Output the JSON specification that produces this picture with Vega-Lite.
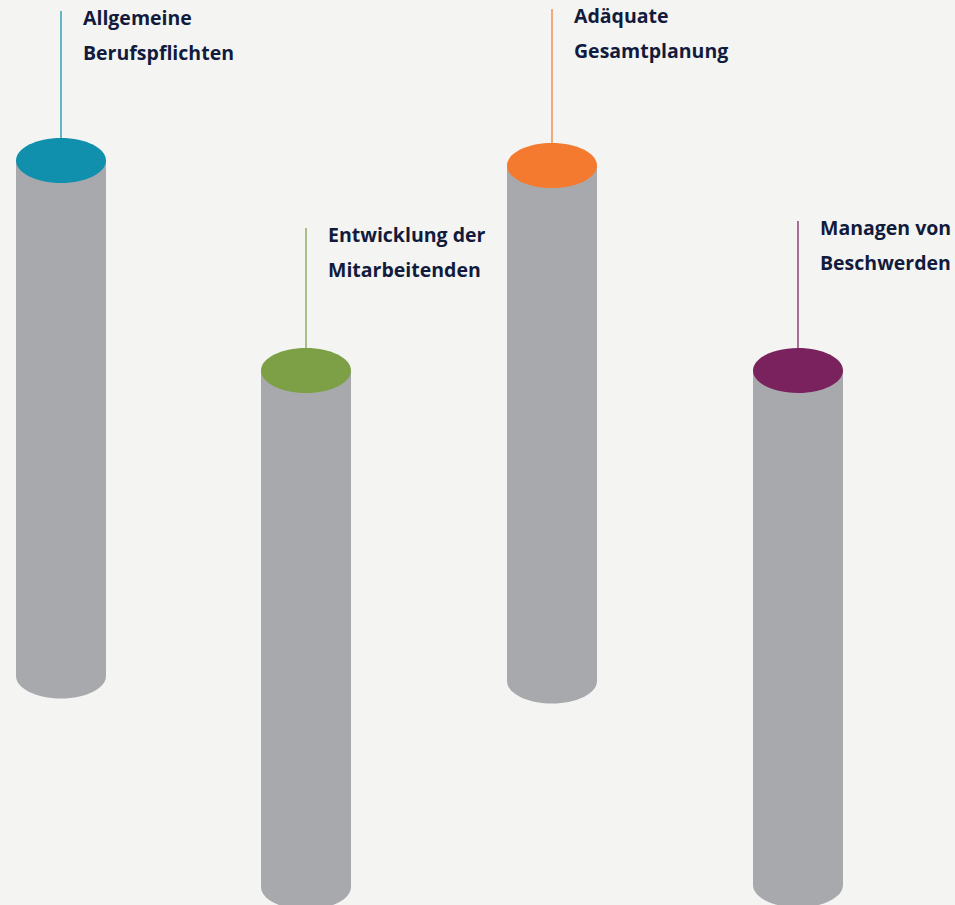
{
  "$schema": "https://vega.github.io/schema/vega-lite/v6.json",
  "width": 955,
  "height": 905,
  "padding": 0,
  "autosize": {"type": "none"},
  "background": "#f4f4f2",
  "config": {"view": {"stroke": null}},
  "data": {
    "values": [
      {"name": "Allgemeine Berufspflichten", "label": ["Allgemeine", "Berufspflichten"], "x": 61, "top": 160.5, "bottom": 676, "lineTop": 11},
      {"name": "Entwicklung der Mitarbeitenden", "label": ["Entwicklung der", "Mitarbeitenden"], "x": 306, "top": 370.5, "bottom": 887, "lineTop": 228},
      {"name": "Adäquate Gesamtplanung", "label": ["Adäquate", "Gesamtplanung"], "x": 552, "top": 165.5, "bottom": 681, "lineTop": 9},
      {"name": "Managen von Beschwerden", "label": ["Managen von", "Beschwerden"], "x": 798, "top": 370.5, "bottom": 885, "lineTop": 221}
    ]
  },
  "encoding": {
    "x": {"field": "x", "type": "quantitative", "scale": {"domain": [0, 955], "nice": false, "zero": false}, "axis": null}
  },
  "layer": [
    {
      "mark": {"type": "point", "shape": "M-1,0A1,0.5,0,1,1,1,0A1,0.5,0,1,1,-1,0Z", "size": 8100, "filled": true, "color": "#a8a9ac", "opacity": 1, "strokeWidth": 0},
      "encoding": {
        "y": {"field": "bottom", "type": "quantitative", "scale": {"domain": [0, 905], "reverse": true, "nice": false, "zero": false}, "axis": null}
      }
    },
    {
      "mark": {"type": "rule", "strokeWidth": 90, "strokeCap": "butt", "color": "#a8a9ac"},
      "encoding": {
        "y": {"field": "top", "type": "quantitative"},
        "y2": {"field": "bottom"}
      }
    },
    {
      "mark": {"type": "rule", "strokeWidth": 1.4, "opacity": 0.9},
      "encoding": {
        "y": {"field": "lineTop", "type": "quantitative"},
        "y2": {"field": "top"},
        "color": {"field": "name", "type": "nominal", "legend": null, "scale": {"domain": ["Allgemeine Berufspflichten", "Entwicklung der Mitarbeitenden", "Adäquate Gesamtplanung", "Managen von Beschwerden"], "range": ["#1190ad", "#7da046", "#f47a30", "#79225e"]}}
      }
    },
    {
      "mark": {"type": "point", "shape": "M-1,0A1,0.5,0,1,1,1,0A1,0.5,0,1,1,-1,0Z", "size": 8100, "filled": true, "opacity": 1, "strokeWidth": 0},
      "encoding": {
        "y": {"field": "top", "type": "quantitative"},
        "color": {"field": "name", "type": "nominal", "legend": null}
      }
    },
    {
      "mark": {"type": "text", "align": "left", "baseline": "alphabetic", "dx": 22, "dy": 14, "font": "Open Sans", "fontWeight": 700, "fontSize": 19.5, "lineHeight": 35, "color": "#121b3c"},
      "encoding": {
        "y": {"field": "lineTop", "type": "quantitative"},
        "text": {"field": "label"}
      }
    }
  ]
}
